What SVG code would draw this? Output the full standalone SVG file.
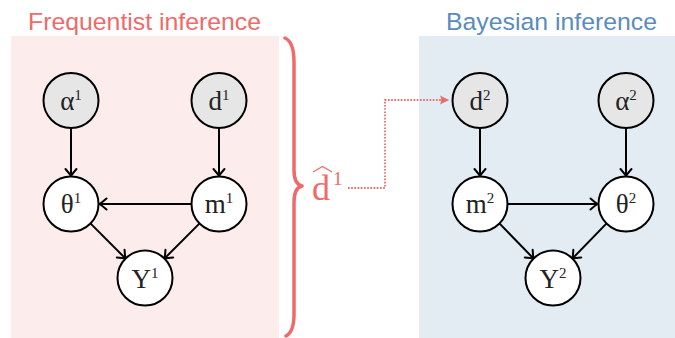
<svg xmlns="http://www.w3.org/2000/svg" width="675" height="338" viewBox="0 0 675 338">
<style>
.title{font-family:"Liberation Sans",Arial,sans-serif;font-size:24.5px}
.node circle{stroke:#000;stroke-width:2}
.obs circle{fill:#e6e6e6}
.lat circle{fill:#fff}
.lbl{font-family:"Liberation Serif","Times New Roman",serif;font-size:27px;fill:#222}
.sup{font-size:15px}
.edge{stroke:#000;stroke-width:2;fill:none;marker-end:url(#ah)}
</style>
<defs>
<marker id="ah" markerUnits="userSpaceOnUse" viewBox="-9 -7 11 14" refX="0" refY="0" markerWidth="11" markerHeight="14" orient="auto">
<path d="M-7,-5.5 Q-2.5,-1.5 0,0 Q-2.5,1.5 -7,5.5" fill="none" stroke="#000" stroke-width="2" stroke-linecap="round"/>
</marker>
<marker id="ahr" markerUnits="userSpaceOnUse" viewBox="-10 -6 12 12" refX="0" refY="0" markerWidth="12" markerHeight="12" orient="auto">
<path d="M-9,-4.5 L0,0 L-9,4.5 Q-6.5,0 -9,-4.5 Z" fill="#ef6a6a"/>
</marker>
</defs>
<rect x="11" y="36" width="268" height="302" fill="#fcecec"/>
<rect x="419" y="36" width="256" height="302" fill="#e3ebf3"/>
<text class="title" x="28" y="30" fill="#ef6a6a" textLength="233" lengthAdjust="spacingAndGlyphs">Frequentist inference</text>
<text class="title" x="446" y="30" fill="#5a8cbf" textLength="211" lengthAdjust="spacingAndGlyphs">Bayesian inference</text>
<path d="M285,38 Q294,42 294,62 L294,170 Q294,184 302,186 Q294,188 294,202 L294,314 Q294,332 286,336" fill="none" stroke="#ef6a6a" stroke-width="3.5" stroke-linecap="round" stroke-linejoin="round"/>
<g id="dhat">
<text x="312" y="200" style="font-family:'Liberation Serif','Times New Roman',serif;font-size:36px;fill:#ef6a6a">d<tspan style="font-size:19px" dx="3" dy="-15">1</tspan></text>
<path d="M313,172 L322.5,166.5 L332,172" fill="none" stroke="#ef6a6a" stroke-width="1.3"/>
</g>
<g id="connectors">
<path d="M348,188 H385 V100 H449" fill="none" stroke="#ef6a6a" stroke-width="1.8" stroke-dasharray="1.6 1.6" marker-end="url(#ahr)"/>
<line class="edge" x1="71" y1="128" x2="71" y2="176"/>
<line class="edge" x1="219" y1="128" x2="219" y2="176"/>
<line class="edge" x1="191" y1="204" x2="99.5" y2="204"/>
<line class="edge" x1="90.4" y1="223.4" x2="125.6" y2="258.6"/>
<line class="edge" x1="199.6" y1="223.4" x2="164.4" y2="258.6"/>
<line class="edge" x1="480" y1="128" x2="480" y2="176"/>
<line class="edge" x1="626" y1="128" x2="626" y2="176"/>
<line class="edge" x1="508" y1="204" x2="597.5" y2="204"/>
<line class="edge" x1="499.4" y1="223.4" x2="533.6" y2="258.6"/>
<line class="edge" x1="606.6" y1="223.4" x2="572.4" y2="258.6"/>
</g>
<g id="alpha1" class="node obs"><circle cx="71" cy="100.5" r="27.5"/><text class="lbl" x="71" y="109.5" text-anchor="middle">α<tspan class="sup" dy="-10">1</tspan></text></g>
<g id="d1" class="node obs"><circle cx="219" cy="100.5" r="27.5"/><text class="lbl" x="219" y="109.5" text-anchor="middle">d<tspan class="sup" dy="-10">1</tspan></text></g>
<g id="theta1" class="node lat"><circle cx="71" cy="204" r="27.5"/><text class="lbl" x="71" y="213" text-anchor="middle">θ<tspan class="sup" dy="-10">1</tspan></text></g>
<g id="m1" class="node lat"><circle cx="219" cy="204" r="27.5"/><text class="lbl" x="219" y="213" text-anchor="middle">m<tspan class="sup" dy="-10">1</tspan></text></g>
<g id="Y1" class="node lat"><circle cx="145" cy="278" r="27.5"/><text class="lbl" x="145" y="287.5" text-anchor="middle">Y<tspan class="sup" dy="-10">1</tspan></text></g>
<g id="d2" class="node obs"><circle cx="480" cy="100.5" r="27.5"/><text class="lbl" x="480" y="109.5" text-anchor="middle">d<tspan class="sup" dy="-10">2</tspan></text></g>
<g id="alpha2" class="node obs"><circle cx="626" cy="100.5" r="27.5"/><text class="lbl" x="626" y="109.5" text-anchor="middle">α<tspan class="sup" dy="-10">2</tspan></text></g>
<g id="m2" class="node lat"><circle cx="480" cy="204" r="27.5"/><text class="lbl" x="480" y="213" text-anchor="middle">m<tspan class="sup" dy="-10">2</tspan></text></g>
<g id="theta2" class="node lat"><circle cx="626" cy="204" r="27.5"/><text class="lbl" x="626" y="213" text-anchor="middle">θ<tspan class="sup" dy="-10">2</tspan></text></g>
<g id="Y2" class="node lat"><circle cx="553" cy="278" r="27.5"/><text class="lbl" x="553" y="287.5" text-anchor="middle">Y<tspan class="sup" dy="-10">2</tspan></text></g>
</svg>
